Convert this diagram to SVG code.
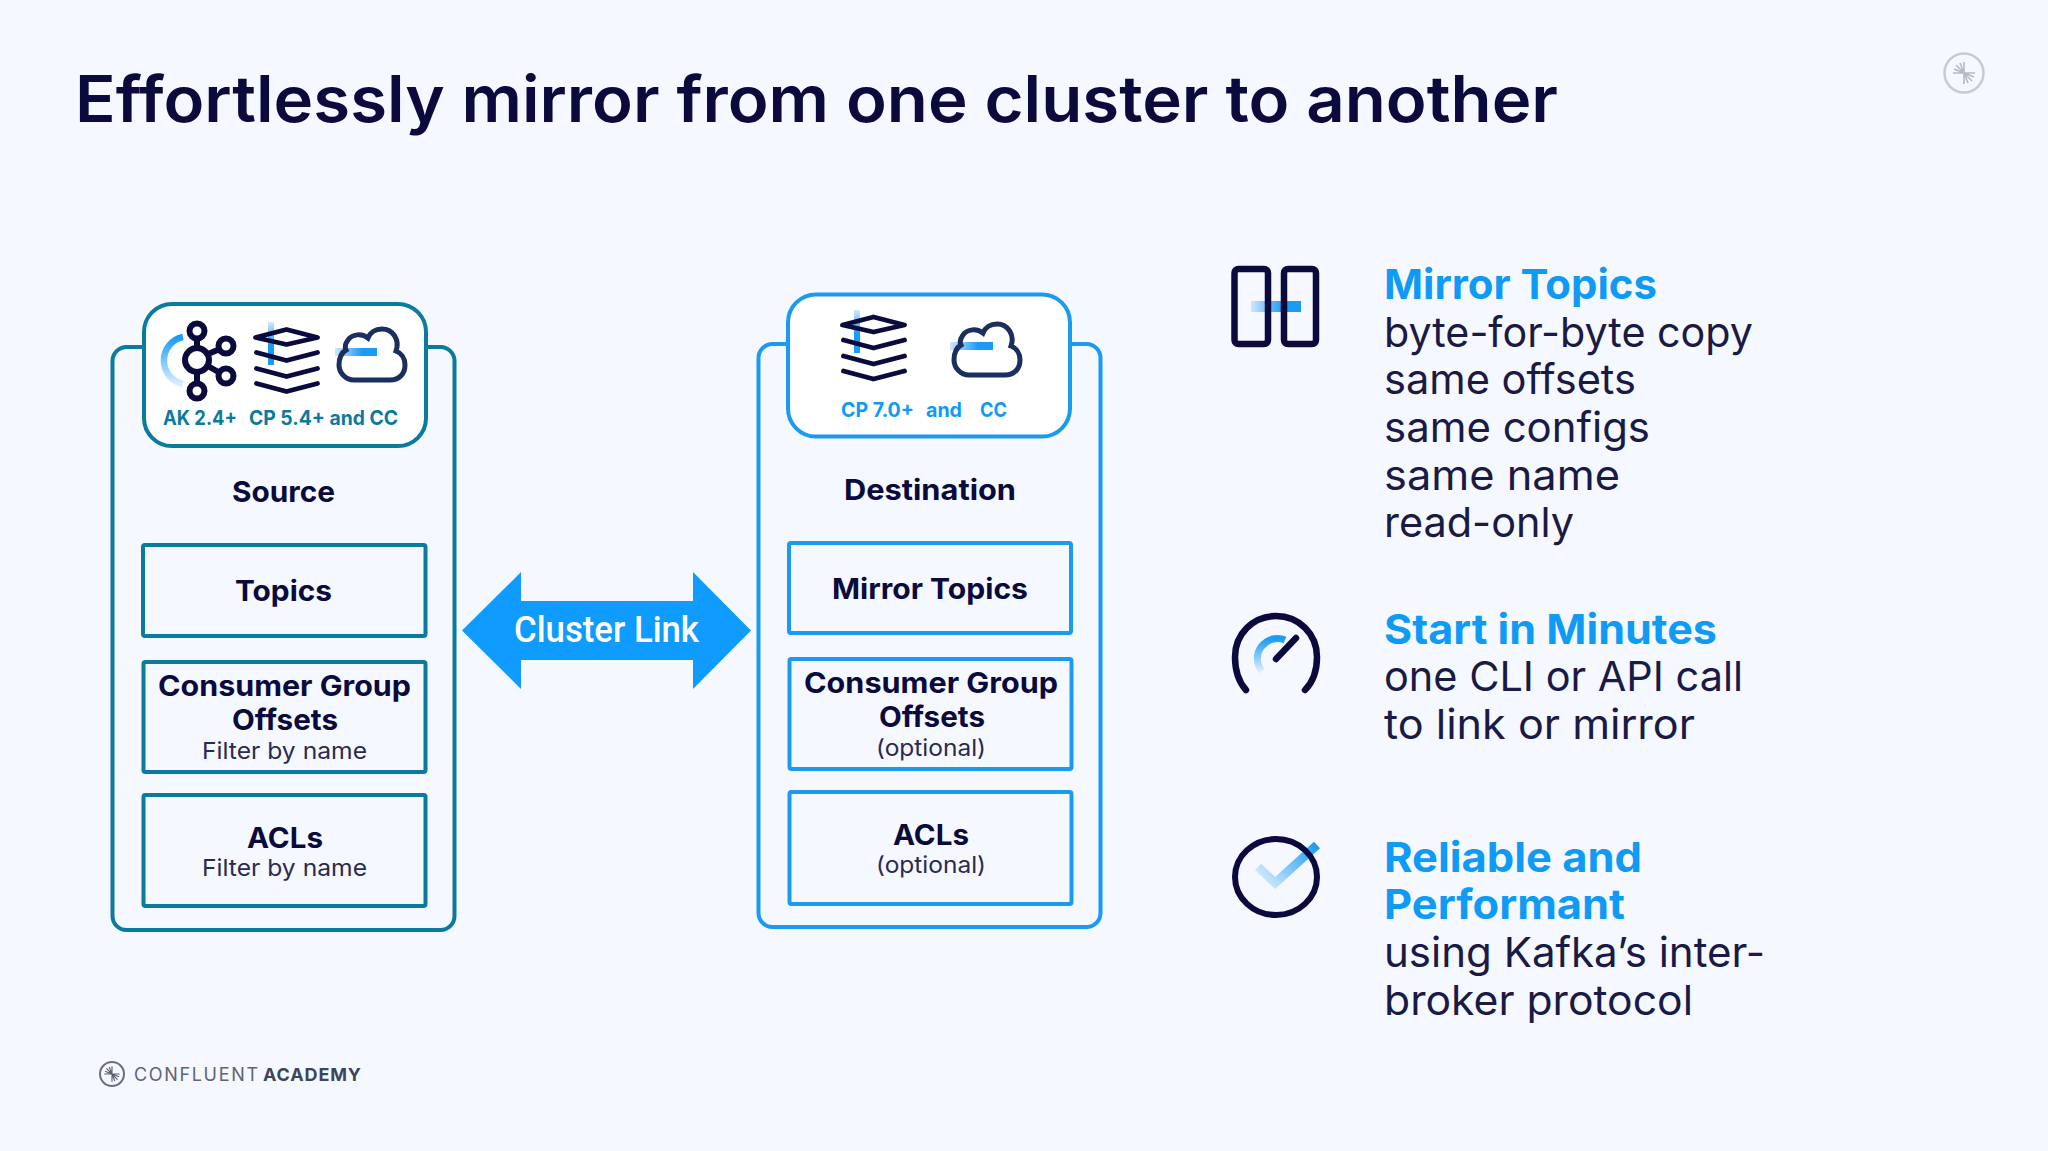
<svg xmlns="http://www.w3.org/2000/svg" xmlns:xlink="http://www.w3.org/1999/xlink" width="2048" height="1151" viewBox="0 0 2048 1151">
<defs>
<linearGradient id="gV" x1="0" y1="0" x2="0" y2="1"><stop offset="0" stop-color="#d4e9fd"/><stop offset="0.55" stop-color="#1a9bf5"/><stop offset="1" stop-color="#1a9bf5"/></linearGradient>
<linearGradient id="gH" x1="0" y1="0" x2="1" y2="0"><stop offset="0" stop-color="#cfe7fd"/><stop offset="0.65" stop-color="#1a9bf5"/><stop offset="1" stop-color="#1a9bf5"/></linearGradient>
<linearGradient id="gA" x1="0" y1="0" x2="0" y2="1"><stop offset="0" stop-color="#1a9bf5"/><stop offset="1" stop-color="#dbeefe"/></linearGradient>
<linearGradient id="gC" gradientUnits="userSpaceOnUse" x1="1317" y1="845" x2="1268" y2="888"><stop offset="0" stop-color="#1a9bf5"/><stop offset="1" stop-color="#d4e9fd"/></linearGradient>
<g id="stack" fill="none" stroke="#0a0a3c" stroke-width="4.800" stroke-linecap="round" stroke-linejoin="round">
<path d="M255 337L286 329L317 337L286 344Z"/><path d="M256 352L286 360L317 352"/><path d="M256 368L286 376L317 368"/><path d="M256 383L286 391L317 383"/>
</g>
<path id="cloud" fill="none" stroke="#1a2f5e" stroke-width="5" d="M354 380H390C400 380 405 373 405 365C405 358 401 353 396 351C400 340 393 329 382 329C375 329 370 333 368 338C362 333 352 334 348 340C345 344 345 348 346 350C341 353 339 359 339 365C339 373 346 380 354 380Z"/>
<g id="star" stroke-width="1.6" fill="none">
<path d="M-11 0H11M0 -11V11M-8 -8L0 0L8 8M-10 -4L0 0L10 4M-4 -10L0 0L4 10"/>
</g>
</defs>
<style>
text{font-family:"Inter","Noto Sans","Liberation Sans",sans-serif;fill:#0a0a3c}
.b{font-weight:600}
.h{font-size:41px;font-weight:700;fill:#0f9bf5}
.t{font-size:41px;font-weight:400;fill:#1a1a44}
.l{font-size:29px;font-weight:700}
.s{font-size:23px;font-weight:400;fill:#2a2a50}
.v{font-size:20px;font-weight:700}
.panel{fill:#f5f8ff;stroke-width:4}
.head{fill:#fff;stroke-width:4}
.box{fill:#f5f8ff;stroke-width:4}
.teal{stroke:#0a7a9e}
.blue{stroke:#1a9bf0}
</style>
<rect width="2048" height="1151" fill="#f5f8ff"/>
<text id="title" x="75" y="122" font-size="64" class="b" textLength="1483" lengthAdjust="spacingAndGlyphs">Effortlessly mirror from one cluster to another</text>
<g id="top-logo"><circle cx="1964" cy="73" r="19.500" fill="none" stroke="#c6cad2" stroke-width="2.500"/><use xlink:href="#star" href="#star" x="1964" y="73" stroke="#b5b9c2"/></g>

<g id="source">
<rect class="panel teal" x="112.500" y="347" width="342" height="583" rx="14"/>
<rect class="head teal" x="144" y="304" width="282" height="142" rx="28"/>
<path d="M183 337A24 24 0 0 0 183 384" fill="none" stroke="url(#gA)" stroke-width="6.500"/>
<g fill="none" stroke="#0a0a3c" stroke-width="6">
<path d="M197 338V349M197 371V382M208 354L220 349M208 366L220 373"/>
<circle cx="197" cy="360" r="12"/><circle cx="197" cy="331" r="7.500"/><circle cx="197" cy="391" r="7.500"/><circle cx="226" cy="346" r="7.500"/><circle cx="226" cy="376" r="7.500"/>
</g>
<rect x="268" y="322" width="6" height="43" fill="url(#gV)"/>
<use xlink:href="#stack" href="#stack" x="0.500" y="0.500"/>
<rect x="335" y="348" width="42" height="8" fill="url(#gH)"/>
<use xlink:href="#cloud" href="#cloud"/>
<text class="v" x="163" y="425" textLength="74" lengthAdjust="spacingAndGlyphs" style="fill:#0a7a9e">AK 2.4+</text>
<text class="v" x="249" y="425" textLength="149" lengthAdjust="spacingAndGlyphs" style="fill:#0a7a9e">CP 5.4+ and CC</text>
<text class="l" x="232" y="502" textLength="103" lengthAdjust="spacingAndGlyphs">Source</text>
</g>
<g id="source-topics"><rect class="box teal" x="143" y="545" width="282.500" height="91" rx="2"/><text class="l" x="235" y="601" textLength="97" lengthAdjust="spacingAndGlyphs">Topics</text></g>
<g id="source-offsets"><rect class="box teal" x="143.500" y="662" width="282" height="110" rx="2"/><text class="l" x="158" y="696" textLength="253" lengthAdjust="spacingAndGlyphs">Consumer Group</text><text class="l" x="232" y="730" textLength="106" lengthAdjust="spacingAndGlyphs">Offsets</text><text class="s" x="202" y="759" textLength="165" lengthAdjust="spacingAndGlyphs">Filter by name</text></g>
<g id="source-acls"><rect class="box teal" x="143.500" y="795" width="282" height="111" rx="2"/><text class="l" x="247" y="848" textLength="76" lengthAdjust="spacingAndGlyphs">ACLs</text><text class="s" x="202" y="876" textLength="165" lengthAdjust="spacingAndGlyphs">Filter by name</text></g>

<g id="destination">
<rect class="panel blue" x="758.500" y="344" width="342" height="583" rx="14"/>
<rect class="head blue" x="788" y="294.500" width="282" height="142" rx="28"/>
<rect x="854" y="310" width="6" height="43" fill="url(#gV)"/>
<use xlink:href="#stack" href="#stack" x="587.500" y="-12"/>
<rect x="950" y="342" width="43" height="8" fill="url(#gH)"/>
<use xlink:href="#cloud" href="#cloud" x="615" y="-5"/>
<text class="v" x="841" y="417" textLength="73" lengthAdjust="spacingAndGlyphs" style="fill:#0f9bf5">CP 7.0+</text>
<text class="v" x="926" y="417" textLength="36" lengthAdjust="spacingAndGlyphs" style="fill:#0f9bf5">and</text>
<text class="v" x="980" y="417" textLength="27" lengthAdjust="spacingAndGlyphs" style="fill:#0f9bf5">CC</text>
<text class="l" x="844" y="500" textLength="172" lengthAdjust="spacingAndGlyphs">Destination</text>
</g>
<g id="dest-topics"><rect class="box blue" x="789" y="543" width="282" height="90" rx="2"/><text class="l" x="832" y="599" textLength="196" lengthAdjust="spacingAndGlyphs">Mirror Topics</text></g>
<g id="dest-offsets"><rect class="box blue" x="789.500" y="659" width="282" height="110" rx="2"/><text class="l" x="804" y="693" textLength="254" lengthAdjust="spacingAndGlyphs">Consumer Group</text><text class="l" x="879" y="727" textLength="106" lengthAdjust="spacingAndGlyphs">Offsets</text><text class="s" x="876" y="756" textLength="110" lengthAdjust="spacingAndGlyphs">(optional)</text></g>
<g id="dest-acls"><rect class="box blue" x="789.500" y="792" width="282" height="112" rx="2"/><text class="l" x="893" y="845" textLength="76" lengthAdjust="spacingAndGlyphs">ACLs</text><text class="s" x="876" y="873" textLength="110" lengthAdjust="spacingAndGlyphs">(optional)</text></g>

<g id="connectors">
<path d="M462 630.500L521 572V601H693V572L751 630.500L693 689V660H521V689Z" fill="#0f9bff"/>
<text x="514" y="642" font-size="36" textLength="185" lengthAdjust="spacingAndGlyphs" style="font-family:Roboto,sans-serif;font-weight:500;fill:#fff">Cluster Link</text>
</g>

<g id="mirror-icon">
<rect x="1251" y="301" width="50" height="11" fill="url(#gH)"/>
<g fill="none" stroke="#0a0a3c" stroke-width="6.500"><rect x="1234.500" y="269" width="33.500" height="75" rx="4"/><rect x="1284" y="269" width="32" height="75" rx="4"/></g>
</g>
<g id="mirror-text">
<text class="h" x="1384" y="299" textLength="273" lengthAdjust="spacingAndGlyphs">Mirror Topics</text>
<text class="t" x="1384" y="347" textLength="369" lengthAdjust="spacingAndGlyphs">byte-for-byte copy</text>
<text class="t" x="1384" y="394" textLength="252" lengthAdjust="spacingAndGlyphs">same offsets</text>
<text class="t" x="1384" y="442" textLength="266" lengthAdjust="spacingAndGlyphs">same configs</text>
<text class="t" x="1384" y="490" textLength="236" lengthAdjust="spacingAndGlyphs">same name</text>
<text class="t" x="1384" y="537" textLength="190" lengthAdjust="spacingAndGlyphs">read-only</text>
</g>
<g id="start-icon">
<path d="M1262 671C1256 664 1256 654 1261 647C1268 638 1278 637 1285 640" fill="none" stroke="url(#gA)" stroke-width="7"/>
<g fill="none" stroke="#0a0a3c" stroke-width="6.500" stroke-linecap="round"><path d="M1246 690C1238 681 1235 670 1235 657C1235 634 1253 616 1276 616C1299 616 1317 634 1317 657C1317 670 1314 681 1305 690"/><path d="M1276 659L1296 638"/></g>
</g>
<g id="start-text">
<text class="h" x="1384" y="644" textLength="333" lengthAdjust="spacingAndGlyphs">Start in Minutes</text>
<text class="t" x="1384" y="691" textLength="359" lengthAdjust="spacingAndGlyphs">one CLI or API call</text>
<text class="t" x="1384" y="739" textLength="311" lengthAdjust="spacingAndGlyphs">to link or mirror</text>
</g>
<g id="reliable-icon">
<path d="M1258 867L1275 883L1317 845" fill="none" stroke="url(#gC)" stroke-width="9"/>
<ellipse cx="1276" cy="877" rx="41" ry="38" fill="none" stroke="#0a0a3c" stroke-width="6"/>
</g>
<g id="reliable-text">
<text class="h" x="1384" y="872" textLength="258" lengthAdjust="spacingAndGlyphs">Reliable and</text>
<text class="h" x="1384" y="919" textLength="241" lengthAdjust="spacingAndGlyphs">Performant</text>
<text class="t" x="1384" y="967" textLength="381" lengthAdjust="spacingAndGlyphs">using Kafka’s inter-</text>
<text class="t" x="1384" y="1015" textLength="309" lengthAdjust="spacingAndGlyphs">broker protocol</text>
</g>
<g id="footer">
<circle cx="112" cy="1074" r="12" fill="none" stroke="#6a6f80" stroke-width="2"/>
<use xlink:href="#star" href="#star" transform="translate(112 1074) scale(0.7)" stroke="#5a5f70"/>
<text x="134" y="1081" font-size="18" textLength="124" lengthAdjust="spacing" style="fill:#5f6475;font-weight:400">CONFLUENT</text>
<text x="263" y="1081" font-size="18" textLength="98" lengthAdjust="spacing" style="fill:#3f4558;font-weight:700">ACADEMY</text>
</g>
</svg>
